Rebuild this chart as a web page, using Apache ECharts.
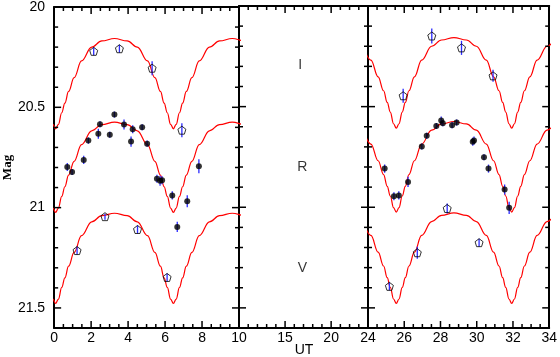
<!DOCTYPE html>
<html>
<head>
<meta charset="utf-8">
<style>
html, body { margin: 0; padding: 0; background: #fff; }
#main { width: 560px; height: 357px; }
</style>
<script src="https://cdn.jsdelivr.net/npm/echarts@6/dist/echarts.min.js"></script>
</head>
<body>
<div id="main"></div>
<script>
// photometry: UT (h), magnitude, error
var leftI_t = [2.14, 3.53, 5.30, 6.91];
var leftI_mag = [20.221, 20.208, 20.305, 20.614];
var leftI_err = [0.02, 0.02, 0.035, 0.035];

var leftR_t = [0.71, 0.97, 1.60, 1.85, 2.39, 2.48, 3.01, 3.26, 3.78, 4.16, 4.25, 4.76, 5.03, 5.56, 5.73, 5.84, 6.39, 6.66, 7.20, 7.83];
var leftR_mag = [20.797, 20.823, 20.762, 20.666, 20.632, 20.584, 20.637, 20.536, 20.586, 20.671, 20.609, 20.599, 20.681, 20.856, 20.866, 20.863, 20.939, 21.096, 20.968, 20.794];
var leftR_err = [0.02, 0.015, 0.02, 0.015, 0.025, 0.015, 0.015, 0.015, 0.025, 0.025, 0.02, 0.015, 0.015, 0.02, 0.025, 0.02, 0.02, 0.025, 0.03, 0.035];

var leftV_t = [1.24, 2.75, 4.51, 6.11];
var leftV_mag = [21.214, 21.045, 21.109, 21.348];
var leftV_err = [0.02, 0.015, 0.02, 0.02];

var rightI_t = [25.94, 27.52, 29.16, 30.90];
var rightI_mag = [20.446, 20.149, 20.208, 20.347];
var rightI_err = [0.035, 0.037, 0.035, 0.03];

var rightR_t = [24.92, 25.43, 25.70, 26.21, 26.97, 27.24, 27.77, 28.04, 28.13, 28.64, 28.89, 29.78, 29.85, 30.40, 30.65, 31.54, 31.79];
var rightR_mag = [20.808, 20.945, 20.941, 20.874, 20.698, 20.645, 20.596, 20.569, 20.582, 20.592, 20.579, 20.675, 20.668, 20.752, 20.808, 20.912, 21.003];
var rightR_err = [0.02, 0.02, 0.02, 0.025, 0.015, 0.015, 0.015, 0.02, 0.015, 0.015, 0.015, 0.02, 0.02, 0.015, 0.02, 0.025, 0.03];

var rightV_t = [25.18, 26.72, 28.37, 30.13];
var rightV_mag = [21.393, 21.226, 21.006, 21.176];
var rightV_err = [0.02, 0.03, 0.025, 0.02];

// model curve: brightest level per band, times of minima, and the
// shape of one half-cycle (hours from minimum -> mag below maximum)
var bandMax = { I: 20.157, R: 20.574, V: 21.028 };
var modelMinima = [0.08, 6.45, 12.82, 19.19, 25.56, 31.93, 38.30];
var profileDt = [0, 0.15, 0.33, 0.5, 0.7, 1.0, 1.4, 1.95, 2.5, 3.185];
var profileDepth = [0.45, 0.428, 0.37, 0.322, 0.264, 0.195, 0.112, 0.043, 0.012, 0];

(function () {
    var myChart = echarts.init(document.getElementById('main'));

    var magMin = 20, magMax = 21.6;
    var panels = [
        { left: 54, width: 185, min: 0, max: 10, major: 2, minor: 0.5 },
        { left: 239, width: 129, min: 10, max: 24, major: 5, minor: 1 },
        { left: 368, width: 184, min: 24, max: 34, major: 2, minor: 0.5 }
    ];
    var font = 'Liberation Sans';
    var lineStyle = { color: '#000', width: 2 };

    var grid = [], xAxis = [], yAxis = [], series = [];

    panels.forEach(function (p, g) {
        grid.push({ left: p.left, width: p.width, top: 6, height: 322 });

        ['bottom', 'top'].forEach(function (pos) {
            xAxis.push({
                gridIndex: g, type: 'value', position: pos,
                min: p.min, max: p.max, interval: p.major,
                axisLine: { show: true, onZero: false, lineStyle: lineStyle },
                axisTick: { show: false },
                axisLabel: {
                    show: pos === 'bottom', margin: 3, color: '#000', fontSize: 14, fontFamily: font,
                    showMinLabel: g !== 1, showMaxLabel: g !== 1
                },
                splitLine: { show: false }
            });
        });

        ['left', 'right'].forEach(function (pos) {
            yAxis.push({
                gridIndex: g, type: 'value', position: pos, inverse: true,
                min: magMin, max: magMax, interval: 0.5,
                axisLine: { show: true, onZero: false, lineStyle: lineStyle },
                axisTick: { show: false },
                axisLabel: {
                    show: pos === 'left' && g === 0, margin: 9, color: '#000', fontSize: 14,
                    fontFamily: font, showMaxLabel: false
                },
                splitLine: { show: false },
                name: (pos === 'left' && g === 0) ? 'Mag' : '',
                nameLocation: 'middle', nameGap: 40, nameRotate: 90,
                nameTextStyle: { color: '#000', fontSize: 13, fontWeight: 'bold', fontFamily: 'Liberation Serif' }
            });
        });

        series.push({
            type: 'scatter', xAxisIndex: g * 2 + 1, yAxisIndex: g * 2 + 1,
            data: [[p.min, magMin]], symbolSize: 0, silent: true,
            itemStyle: { opacity: 0 }
        });

        // inward ticks on all four sides: [x, y, isYTick, isMajor]
        var ticks = [];
        var nx = Math.round((p.max - p.min) / p.minor);
        for (var i = 1; i < nx; i++) {
            var v = p.min + i * p.minor;
            ticks.push([v, magMin, 0, Math.abs(v / p.major - Math.round(v / p.major)) < 1e-6 ? 1 : 0]);
        }
        for (var k = 1; k < 16; k++) {
            ticks.push([p.min, magMin + k / 10, 1, k % 5 === 0 ? 1 : 0]);
        }
        series.push({
            type: 'custom', xAxisIndex: g * 2, yAxisIndex: g * 2,
            data: ticks, silent: true, z: 5,
            encode: { x: 0, y: 1 },
            renderItem: function (params, api) {
                var len = api.value(3) ? 7 : 4;
                var st = { stroke: '#000', lineWidth: 1.5 };
                var a, b;
                if (api.value(2)) {
                    a = api.coord([p.min, api.value(1)]);
                    b = api.coord([p.max, api.value(1)]);
                    return { type: 'group', children: [
                        { type: 'line', shape: { x1: a[0], y1: a[1], x2: a[0] + len, y2: a[1] }, style: st },
                        { type: 'line', shape: { x1: b[0], y1: b[1], x2: b[0] - len, y2: b[1] }, style: st }
                    ] };
                }
                a = api.coord([api.value(0), magMax]);
                b = api.coord([api.value(0), magMin]);
                return { type: 'group', children: [
                    { type: 'line', shape: { x1: a[0], y1: a[1], x2: a[0], y2: a[1] - len }, style: st },
                    { type: 'line', shape: { x1: b[0], y1: b[1], x2: b[0], y2: b[1] + len }, style: st }
                ] };
            }
        });
    });

    // model light curve knots for one band, shifted onto each minimum
    function modelCurve(band, from, to) {
        var pts = [];
        modelMinima.forEach(function (m) {
            for (var i = profileDt.length - 1; i >= 0; i--) {
                pts.push([m - profileDt[i], bandMax[band] + profileDepth[i]]);
            }
            for (var j = 1; j < profileDt.length; j++) {
                pts.push([m + profileDt[j], bandMax[band] + profileDepth[j]]);
            }
        });
        pts = pts.filter(function (d) { return d[0] > from - 3.5 && d[0] < to + 3.5; });
        pts.sort(function (a, b) { return a[0] - b[0]; });
        var out = [];
        pts.forEach(function (d) {
            if (!out.length || Math.abs(out[out.length - 1][0] - d[0]) > 1e-6) out.push(d);
        });
        return out;
    }

    function zip(t, m, e) {
        return t.map(function (v, i) { return [v, m[i], e[i]]; });
    }

    var pentagon = 'path://M0,-1L0.951,-0.309L0.588,0.809L-0.588,0.809L-0.951,-0.309Z';

    var obs = [
        { g: 0, band: 'I', data: zip(leftI_t, leftI_mag, leftI_err) },
        { g: 0, band: 'R', data: zip(leftR_t, leftR_mag, leftR_err) },
        { g: 0, band: 'V', data: zip(leftV_t, leftV_mag, leftV_err) },
        { g: 2, band: 'I', data: zip(rightI_t, rightI_mag, rightI_err) },
        { g: 2, band: 'R', data: zip(rightR_t, rightR_mag, rightR_err) },
        { g: 2, band: 'V', data: zip(rightV_t, rightV_mag, rightV_err) }
    ];

    obs.forEach(function (o) {
        var p = panels[o.g];
        var xi = o.g * 2, yi = o.g * 2;
        series.push({
            type: 'line', xAxisIndex: xi, yAxisIndex: yi,
            data: modelCurve(o.band, p.min, p.max),
            showSymbol: false, smooth: 0.4, smoothMonotone: 'x', clip: true,
            lineStyle: { color: '#ff0000', width: 1.2 }, z: 2
        });
        // error bars
        series.push({
            type: 'custom', xAxisIndex: xi, yAxisIndex: yi,
            data: o.data, encode: { x: 0, y: 1 }, z: 3,
            renderItem: function (params, api) {
                var x = api.value(0), m = api.value(1), e = api.value(2);
                var a = api.coord([x, m - e]), b = api.coord([x, m + e]);
                return {
                    type: 'line',
                    shape: { x1: a[0], y1: a[1], x2: b[0], y2: b[1] },
                    style: { stroke: '#2a2aff', lineWidth: 1.3 }
                };
            }
        });
        var filled = o.band === 'R';
        series.push({
            type: 'scatter', xAxisIndex: xi, yAxisIndex: yi,
            data: o.data, z: 4,
            symbol: filled ? 'circle' : pentagon,
            symbolSize: filled ? 6 : 8,
            itemStyle: filled ? { color: '#000' } : { color: 'rgba(0,0,0,0)', borderColor: '#000', borderWidth: 1 }
        });
    });

    // band names in the empty middle panel
    series.push({
        type: 'scatter', xAxisIndex: 2, yAxisIndex: 2,
        data: [[16.65, 20.293, 'I'], [16.87, 20.799, 'R'], [16.87, 21.303, 'V']],
        symbolSize: 1, itemStyle: { color: 'rgba(0,0,0,0)' },
        label: {
            show: true, position: 'inside', color: '#000', fontSize: 14, fontFamily: font,
            formatter: function (d) { return d.value[2]; }
        }
    });

    var option = {
        animation: false,
        backgroundColor: '#fff',
        grid: grid,
        xAxis: xAxis,
        yAxis: yAxis,
        graphic: [{
            type: 'text', x: 304, y: 350,
            style: { text: 'UT', fill: '#000', font: '14px "Liberation Sans"', textAlign: 'center', textVerticalAlign: 'middle' }
        }],
        series: series
    };
    myChart.setOption(option);
    window.addEventListener('resize', function () {
        myChart.resize();
    });
})();
</script>
</body>
</html>
